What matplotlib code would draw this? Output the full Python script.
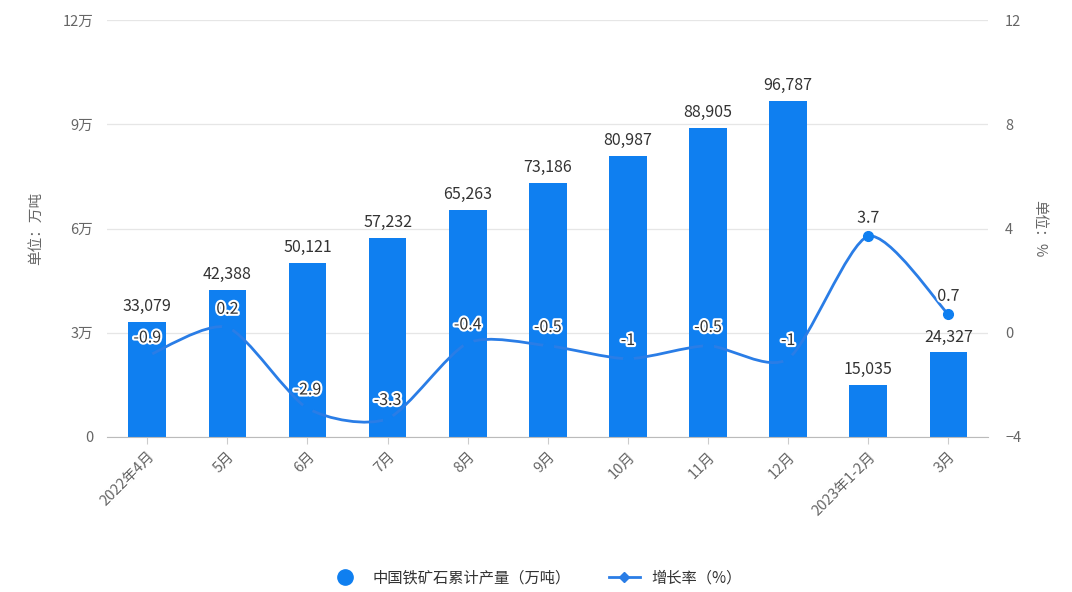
import matplotlib.pyplot as plt
import matplotlib.patheffects as pe
from matplotlib.path import Path
from matplotlib.patches import PathPatch
from matplotlib.lines import Line2D
import numpy as np

plt.rcParams['font.family'] = ['Noto Sans CJK SC', 'DejaVu Sans']

months = ['2022年4月', '5月', '6月', '7月', '8月', '9月', '10月', '11月', '12月', '2023年1-2月', '3月']
output = [33079, 42388, 50121, 57232, 65263, 73186, 80987, 88905, 96787, 15035, 24327]
growth = [-0.9, 0.2, -2.9, -3.3, -0.4, -0.5, -1, -0.5, -1, 3.7, 0.7]

bar_color = '#0f7ff0'
line_color = '#2a7de6'
text_color = '#333333'
tick_color = '#666666'

fig = plt.figure(figsize=(10.72, 5.92), dpi=100)
ax = fig.add_axes([0.1, 0.262, 0.822, 0.704])
ax2 = ax.twinx()

x = np.arange(len(months))
ax.bar(x, output, width=0.47, color=bar_color, zorder=2)
for xi, v in zip(x, output):
    ax.annotate(f'{v:,}', (xi, v), xytext=(0, 5), textcoords='offset points',
                ha='center', va='bottom', fontsize=11.5, color=text_color)

ax.set_xlim(-0.5, len(months) - 0.5)
ax.set_ylim(0, 120000)
ax.set_yticks([0, 30000, 60000, 90000, 120000])
ax.set_yticklabels(['0', '3万', '6万', '9万', '12万'])
ax.grid(axis='y', color='#e6e6e6', lw=0.9, zorder=0)
ax.set_axisbelow(True)
ax.set_xticks(x)
ax.set_xticklabels(months, rotation=45, ha='right', rotation_mode='anchor')
ax.tick_params(axis='x', length=5, color='#cccccc', labelsize=10.5, labelcolor=tick_color, pad=4)
ax.tick_params(axis='y', length=0, labelsize=10.5, labelcolor=tick_color, pad=10)
for s in ['top', 'right', 'left']:
    ax.spines[s].set_visible(False)
ax.spines['bottom'].set_color('#bbbbbb')
ax.set_ylabel('单位：万吨', color=tick_color, fontsize=10.5, labelpad=14)

# smooth growth line built from cubic bezier segments through the points
ax2.set_ylim(-4, 12)
ax2.set_yticks([-4, 0, 4, 8, 12])
gy = np.array(growth, dtype=float)
verts = [(x[0], gy[0])]
codes = [Path.MOVETO]
k = 0.25
for i in range(len(x) - 1):
    p0 = np.array([x[i - 1], gy[i - 1]]) if i > 0 else np.array([x[i], gy[i]])
    p1 = np.array([x[i], gy[i]])
    p2 = np.array([x[i + 1], gy[i + 1]])
    p3 = np.array([x[i + 2], gy[i + 2]]) if i + 2 < len(x) else p2
    c1 = p1 + (p2 - p0) * k / 2
    c2 = p2 - (p3 - p1) * k / 2
    verts += [tuple(c1), tuple(c2), tuple(p2)]
    codes += [Path.CURVE4] * 3
ax2.add_patch(PathPatch(Path(verts, codes), fill=False, edgecolor=line_color, lw=2, zorder=3))
ax2.plot(x, growth, 'o', color=bar_color, ms=7, mec=bar_color, zorder=4)
for xi, v in zip(x, growth):
    ax2.annotate(f'{v:g}', (xi, v), xytext=(0, 7), textcoords='offset points',
                 ha='center', va='bottom', fontsize=11.5, color=text_color, zorder=5,
                 path_effects=[pe.withStroke(linewidth=3, foreground='white')])
ax2.tick_params(axis='y', length=0, labelsize=10.5, labelcolor=tick_color, pad=12)
for s in ['top', 'right', 'left', 'bottom']:
    ax2.spines[s].set_visible(False)
ax2.set_ylabel('单位：%', color=tick_color, fontsize=10.5, rotation=-90, labelpad=18)

handles = [
    Line2D([], [], marker='o', ls='none', color=bar_color, ms=11),
    Line2D([], [], marker='D', color=line_color, lw=2, ms=5),
]
fig.legend(handles, ['中国铁矿石累计产量（万吨）', '增长率（%）'], loc='center',
           bbox_to_anchor=(0.5, 0.024), ncol=2, frameon=False, fontsize=11,
           labelcolor='#333333', handlelength=2, columnspacing=2.5)

fig.savefig('out.png', dpi=100)
